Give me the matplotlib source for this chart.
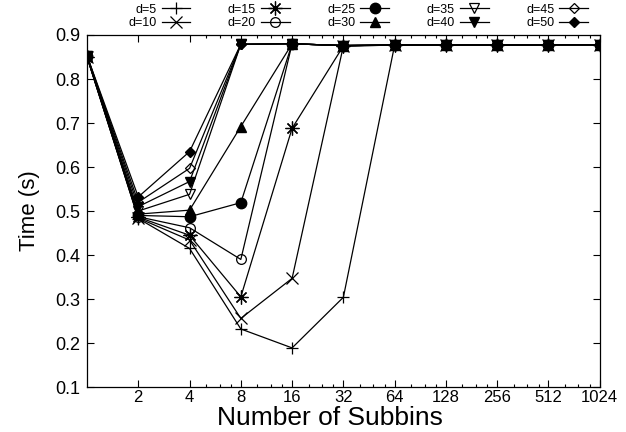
import matplotlib
matplotlib.use("Agg")
import matplotlib.pyplot as plt
from matplotlib.ticker import FixedLocator, NullFormatter

plt.rcParams['font.family'] = ['Liberation Sans', 'DejaVu Sans']

subbins = [1, 2, 4, 8, 16, 32, 64, 128, 256, 512, 1024]
tick_labels = ['2', '4', '8', '16', '32', '64', '128', '256', '512', '1024']

d5  = [0.850, 0.483, 0.415, 0.232, 0.189, 0.304, 0.877, 0.877, 0.877, 0.878, 0.878]
d10 = [0.850, 0.484, 0.434, 0.256, 0.347, 0.875, 0.877, 0.877, 0.877, 0.878, 0.878]
d15 = [0.851, 0.486, 0.445, 0.305, 0.688, 0.875, 0.877, 0.877, 0.877, 0.878, 0.878]
d20 = [0.851, 0.487, 0.462, 0.390, 0.880, 0.876, 0.877, 0.877, 0.877, 0.878, 0.878]
d25 = [0.852, 0.490, 0.487, 0.519, 0.880, 0.876, 0.877, 0.877, 0.877, 0.878, 0.878]
d30 = [0.852, 0.493, 0.502, 0.692, 0.880, 0.876, 0.877, 0.877, 0.877, 0.878, 0.878]
d35 = [0.852, 0.500, 0.538, 0.879, 0.880, 0.876, 0.877, 0.877, 0.877, 0.878, 0.878]
d40 = [0.853, 0.510, 0.567, 0.879, 0.880, 0.876, 0.877, 0.877, 0.877, 0.878, 0.878]
d45 = [0.853, 0.520, 0.597, 0.879, 0.880, 0.876, 0.877, 0.877, 0.877, 0.878, 0.878]
d50 = [0.853, 0.532, 0.635, 0.879, 0.880, 0.876, 0.877, 0.877, 0.877, 0.878, 0.878]

series = [
    ('d=5',  d5,  dict(marker='+', ms=9, mew=0.9)),
    ('d=10', d10, dict(marker='x', ms=8, mew=0.9)),
    ('d=15', d15, dict(marker=(8, 2, 0), ms=10, mew=0.9)),
    ('d=20', d20, dict(marker='o', ms=7, mfc='none', mew=0.9)),
    ('d=25', d25, dict(marker='o', ms=7.5)),
    ('d=30', d30, dict(marker='^', ms=7.5)),
    ('d=35', d35, dict(marker='v', ms=7.5, mfc='none', mew=0.9)),
    ('d=40', d40, dict(marker='v', ms=7.5)),
    ('d=45', d45, dict(marker='D', ms=5.5, mfc='none', mew=0.9)),
    ('d=50', d50, dict(marker='D', ms=5.5)),
]

fig = plt.figure(figsize=(6.26, 4.32), dpi=100)
ax = fig.add_axes([0.139, 0.104, 0.819, 0.815])

for label, vals, style in series:
    ax.plot(subbins, vals, color='black', lw=0.9, mec='black',
            label=label, **({'mfc': 'black'} | style))

ax.set_xscale('log', base=2)
ax.set_xlim(1, 1024)
ax.set_ylim(0.1, 0.9)
ax.xaxis.set_major_locator(FixedLocator(subbins[1:]))
ax.set_xticklabels(tick_labels)
minor = [2 ** k * f for k in range(2, 10) for f in (1.25, 1.5, 1.75)]
ax.xaxis.set_minor_locator(FixedLocator(minor))
ax.xaxis.set_minor_formatter(NullFormatter())
ax.set_yticks([0.1, 0.2, 0.3, 0.4, 0.5, 0.6, 0.7, 0.8, 0.9])
ax.set_yticklabels(['0.1', '0.2', '0.3', '0.4', '0.5', '0.6', '0.7', '0.8', '0.9'])
ax.tick_params(which='both', direction='in', top=True, right=True, width=0.8)
ax.tick_params(axis='x', labelsize=12, pad=2)
ax.tick_params(axis='y', labelsize=13, pad=5)
ax.tick_params(which='major', length=5)
ax.tick_params(which='minor', length=2.5)
for s in ax.spines.values():
    s.set_linewidth(0.9)

ax.set_xlabel('Number of Subbins', fontsize=19)
ax.xaxis.set_label_coords(0.474, -0.055, transform=ax.transAxes)
ax.xaxis.label.set_va('top')
ax.set_ylabel('Time (s)', fontsize=16, labelpad=11)

leg = fig.legend(loc='upper left', bbox_to_anchor=(0.195, 1.006), ncol=5,
                 frameon=False, markerfirst=False, fontsize=9,
                 borderpad=0.0, handlelength=2.3, handletextpad=0.4,
                 columnspacing=3.0, labelspacing=0.1)

fig.savefig('out.png', dpi=100)
